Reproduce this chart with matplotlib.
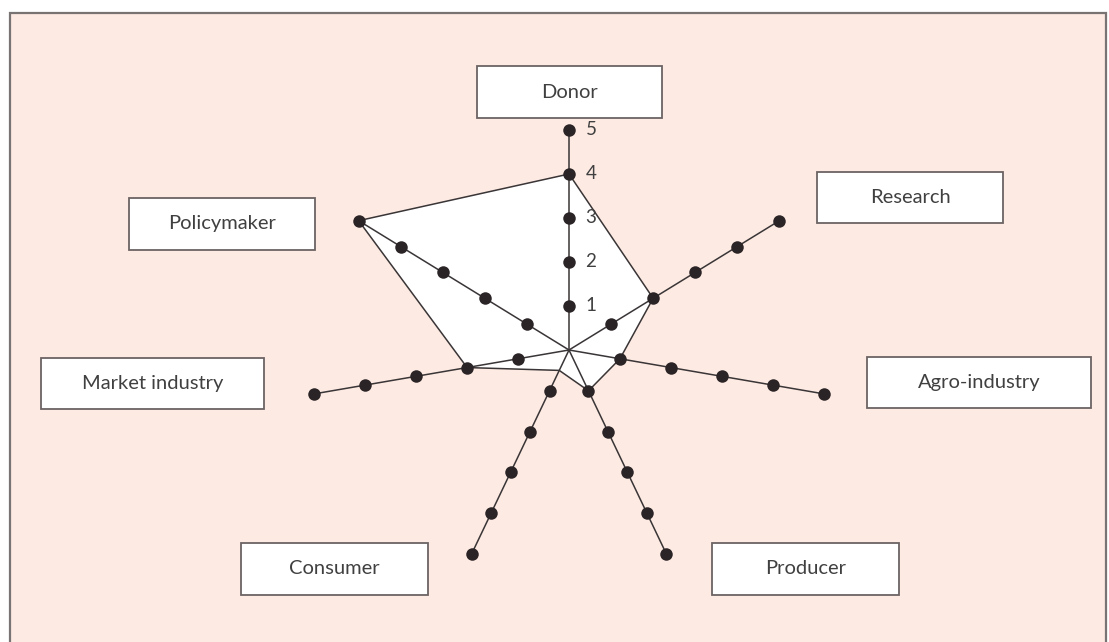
import numpy as np
import matplotlib
matplotlib.use("Agg")
import matplotlib.pyplot as plt
from matplotlib.patches import Rectangle, Polygon

plt.rcParams['font.family'] = ['Lato', 'DejaVu Sans']

# chart data
categories = ['Donor', 'Research', 'Agro-industry', 'Producer',
              'Consumer', 'Market industry', 'Policymaker']
scores = [4, 2, 1, 1, 0.5, 2, 5]
levels = [1, 2, 3, 4, 5]
level_labels = ['1', '2', '3', '4', '5']

# spoke directions (degrees) as drawn in the original figure
spoke_angles = [90, 36, -11.5, -68, -112, -168.5, 144]

# label boxes in pixel coords (x0, y0, x1, y1), y measured from top
label_boxes = {
    'Donor': (477, 66, 662, 118),
    'Research': (817, 172, 1003, 223),
    'Agro-industry': (867, 357, 1091, 408),
    'Producer': (712, 543, 899, 595),
    'Consumer': (241, 543, 428, 595),
    'Market industry': (41, 358, 264, 409),
    'Policymaker': (129, 198, 315, 250),
}

W, H = 1109, 642
bg = '#fdeae3'
ink = '#2b2426'
line_col = '#3a3536'
text_col = '#404040'

fig = plt.figure(figsize=(W / 100, H / 100), dpi=100)
fig.patch.set_facecolor('white')

# background axis in pixel coordinates
bax = fig.add_axes([0, 0, 1, 1])
bax.set_xlim(0, W)
bax.set_ylim(H, 0)
bax.axis('off')
bax.add_patch(Rectangle((9.5, 13), 1096.5, H, facecolor=bg,
                        edgecolor='#7a7373', linewidth=1.6))
for name, (x0, y0, x1, y1) in label_boxes.items():
    bax.add_patch(Rectangle((x0, y0), x1 - x0, y1 - y0, facecolor='white',
                            edgecolor='#6b6363', linewidth=1.3))
    bax.text((x0 + x1) / 2, (y0 + y1) / 2, name, ha='center', va='center',
             fontsize=14.5, color=text_col)

# radar axis: one unit = 52 px horizontally, 44 px vertically, centre at (569, 350)
cx, cy, ux, uy = 569, 350, 52, 44
ax = fig.add_axes([0, 0, 1, 1])
ax.patch.set_alpha(0)
ax.set_xlim(-cx / ux, (W - cx) / ux)
ax.set_ylim(-(H - cy) / uy, cy / uy)
ax.axis('off')

theta = np.radians(spoke_angles)
r = np.array(scores)
poly_x = r * np.cos(theta)
poly_y = r * np.sin(theta)
ax.add_patch(Polygon(np.column_stack([poly_x, poly_y]), closed=True,
                     facecolor='white', edgecolor=line_col, linewidth=1.1,
                     zorder=2))

lv = np.array(levels)
for t in theta:
    ax.plot([0, lv[-1] * np.cos(t)], [0, lv[-1] * np.sin(t)],
            color=line_col, linewidth=1.1, zorder=3)
    ax.plot(lv * np.cos(t), lv * np.sin(t), 'o', color=ink,
            markersize=9, markeredgewidth=0, zorder=4)

# scale numbers along the Donor spoke
for v, lab in zip(levels, level_labels):
    ax.text(22 / ux, v, lab, ha='center', va='center',
            fontsize=13.5, color=text_col, zorder=5)

fig.savefig('out.png', dpi=100, facecolor='white')
